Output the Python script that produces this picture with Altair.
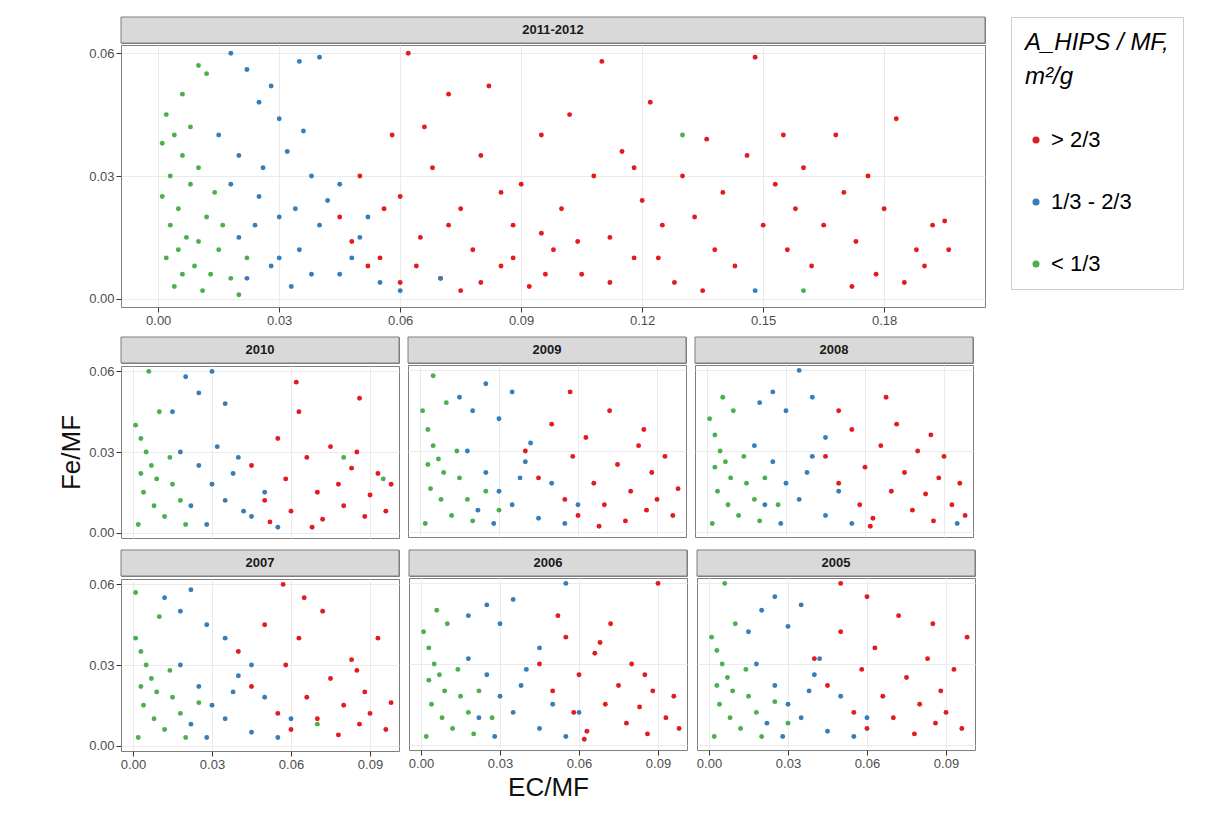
import altair as alt
import pandas as pd

# --- points read (approximately) from the picture, (EC/MF, Fe/MF) ---
r_2011 = [(0.045,0.020),(0.050,0.030),(0.055,0.010),(0.058,0.040),(0.060,0.025),(0.062,0.060),(0.065,0.015),(0.068,0.032),
          (0.070,0.005),(0.072,0.050),(0.075,0.022),(0.078,0.012),(0.080,0.035),(0.082,0.052),(0.085,0.008),(0.088,0.018),
          (0.090,0.028),(0.092,0.003),(0.095,0.040),(0.098,0.012),(0.100,0.022),(0.102,0.045),(0.105,0.006),(0.108,0.030),
          (0.110,0.058),(0.112,0.015),(0.115,0.036),(0.118,0.010),(0.120,0.024),(0.122,0.048),(0.125,0.018),(0.128,0.004),
          (0.130,0.030),(0.133,0.020),(0.136,0.039),(0.138,0.012),(0.140,0.026),(0.143,0.008),(0.146,0.035),(0.148,0.059),
          (0.150,0.018),(0.153,0.028),(0.156,0.012),(0.158,0.022),(0.160,0.032),(0.162,0.008),(0.165,0.018),(0.168,0.040),
          (0.170,0.026),(0.173,0.014),(0.176,0.030),(0.178,0.006),(0.180,0.022),(0.183,0.044),(0.185,0.004),(0.188,0.012),
          (0.190,0.008),(0.192,0.018),(0.195,0.019),(0.196,0.012),(0.060,0.004),(0.075,0.002),(0.052,0.008),(0.085,0.026),
          (0.095,0.016),(0.066,0.042),(0.118,0.032),(0.135,0.002),(0.155,0.040),(0.172,0.003),(0.048,0.014),(0.056,0.022),
          (0.064,0.008),(0.072,0.018),(0.080,0.004),(0.088,0.010),(0.096,0.006),(0.104,0.014),(0.112,0.004),(0.124,0.010)]
b_2011 = [(0.018,0.060),(0.022,0.056),(0.028,0.052),(0.035,0.058),(0.040,0.059),(0.025,0.048),(0.030,0.044),(0.015,0.040),
          (0.020,0.035),(0.032,0.036),(0.038,0.030),(0.045,0.028),(0.025,0.025),(0.030,0.020),(0.040,0.018),(0.050,0.015),
          (0.035,0.012),(0.028,0.008),(0.045,0.006),(0.055,0.004),(0.060,0.002),(0.020,0.015),(0.042,0.024),(0.033,0.003),
          (0.070,0.005),(0.148,0.002),(0.018,0.028),(0.048,0.010),(0.026,0.032),(0.036,0.041),(0.022,0.005),(0.052,0.020),
          (0.030,0.010),(0.038,0.006),(0.024,0.018),(0.034,0.022)]
g_2011 = [(0.002,0.045),(0.004,0.040),(0.006,0.035),(0.003,0.030),(0.008,0.028),(0.010,0.032),(0.001,0.025),(0.005,0.022),
          (0.012,0.020),(0.003,0.018),(0.007,0.015),(0.015,0.012),(0.002,0.010),(0.009,0.008),(0.018,0.005),(0.004,0.003),
          (0.011,0.002),(0.020,0.001),(0.006,0.050),(0.010,0.057),(0.012,0.055),(0.014,0.026),(0.016,0.018),(0.001,0.038),
          (0.008,0.042),(0.130,0.040),(0.160,0.002),(0.005,0.012),(0.013,0.006),(0.022,0.010),(0.006,0.006),(0.010,0.014)]

r_2010 = [(0.045,0.025),(0.050,0.012),(0.055,0.035),(0.058,0.020),(0.060,0.008),(0.063,0.045),(0.066,0.028),(0.070,0.015),
          (0.072,0.005),(0.075,0.032),(0.078,0.018),(0.080,0.010),(0.083,0.024),(0.086,0.050),(0.088,0.006),(0.090,0.014),
          (0.093,0.022),(0.096,0.008),(0.098,0.018),(0.062,0.056),(0.068,0.002),(0.085,0.030),(0.052,0.004)]
b_2010 = [(0.015,0.045),(0.020,0.058),(0.025,0.052),(0.030,0.060),(0.035,0.048),(0.018,0.030),(0.025,0.025),(0.030,0.018),
          (0.035,0.012),(0.040,0.028),(0.045,0.006),(0.050,0.015),(0.022,0.010),(0.028,0.003),(0.038,0.022),(0.055,0.002),
          (0.032,0.032),(0.042,0.008)]
g_2010 = [(0.001,0.040),(0.003,0.035),(0.005,0.030),(0.007,0.025),(0.009,0.020),(0.004,0.015),(0.008,0.010),(0.012,0.006),
          (0.002,0.003),(0.015,0.018),(0.006,0.060),(0.010,0.045),(0.018,0.012),(0.020,0.003),(0.003,0.022),(0.014,0.028),
          (0.095,0.020),(0.080,0.028)]

r_2009 = [(0.040,0.030),(0.045,0.020),(0.050,0.040),(0.055,0.012),(0.058,0.028),(0.060,0.006),(0.063,0.035),(0.066,0.018),
          (0.070,0.010),(0.072,0.045),(0.075,0.025),(0.078,0.004),(0.080,0.015),(0.083,0.032),(0.086,0.008),(0.088,0.022),
          (0.090,0.012),(0.093,0.028),(0.096,0.006),(0.098,0.016),(0.057,0.052),(0.068,0.002),(0.085,0.038)]
b_2009 = [(0.015,0.050),(0.020,0.045),(0.025,0.055),(0.030,0.042),(0.035,0.052),(0.018,0.030),(0.025,0.022),(0.030,0.015),
          (0.035,0.010),(0.040,0.026),(0.045,0.005),(0.050,0.018),(0.022,0.008),(0.028,0.003),(0.038,0.020),(0.055,0.003),
          (0.060,0.010),(0.042,0.033)]
g_2009 = [(0.001,0.045),(0.003,0.038),(0.005,0.032),(0.007,0.027),(0.009,0.022),(0.004,0.016),(0.008,0.012),(0.012,0.006),
          (0.002,0.003),(0.015,0.020),(0.005,0.058),(0.010,0.048),(0.018,0.012),(0.020,0.004),(0.003,0.025),(0.014,0.030),
          (0.025,0.015),(0.030,0.008)]

r_2008 = [(0.045,0.028),(0.050,0.018),(0.055,0.038),(0.058,0.010),(0.060,0.024),(0.063,0.005),(0.066,0.032),(0.070,0.015),
          (0.072,0.040),(0.075,0.022),(0.078,0.008),(0.080,0.030),(0.083,0.014),(0.086,0.004),(0.088,0.020),(0.090,0.028),
          (0.093,0.010),(0.096,0.018),(0.098,0.006),(0.050,0.045),(0.068,0.050),(0.085,0.036),(0.062,0.002)]
b_2008 = [(0.020,0.048),(0.025,0.052),(0.030,0.045),(0.035,0.060),(0.040,0.050),(0.018,0.032),(0.025,0.026),(0.030,0.018),
          (0.035,0.012),(0.040,0.028),(0.045,0.006),(0.050,0.015),(0.022,0.010),(0.028,0.003),(0.038,0.022),(0.055,0.003),
          (0.095,0.003),(0.045,0.035)]
g_2008 = [(0.001,0.042),(0.003,0.036),(0.005,0.030),(0.007,0.026),(0.009,0.020),(0.004,0.015),(0.008,0.010),(0.012,0.006),
          (0.002,0.003),(0.015,0.018),(0.006,0.050),(0.010,0.045),(0.018,0.012),(0.020,0.004),(0.003,0.024),(0.014,0.028),
          (0.022,0.020),(0.027,0.010)]

r_2007 = [(0.040,0.035),(0.045,0.022),(0.050,0.045),(0.055,0.012),(0.058,0.030),(0.060,0.006),(0.063,0.040),(0.066,0.018),
          (0.070,0.010),(0.072,0.050),(0.075,0.025),(0.078,0.004),(0.080,0.015),(0.083,0.032),(0.086,0.008),(0.088,0.020),
          (0.090,0.012),(0.093,0.040),(0.096,0.006),(0.098,0.016),(0.057,0.060),(0.065,0.055),(0.085,0.028)]
b_2007 = [(0.012,0.055),(0.018,0.050),(0.022,0.058),(0.028,0.045),(0.035,0.040),(0.018,0.030),(0.025,0.022),(0.030,0.015),
          (0.035,0.010),(0.040,0.026),(0.045,0.005),(0.050,0.018),(0.022,0.008),(0.028,0.003),(0.038,0.020),(0.055,0.003),
          (0.060,0.010),(0.045,0.030)]
g_2007 = [(0.001,0.040),(0.003,0.035),(0.005,0.030),(0.007,0.025),(0.009,0.020),(0.004,0.015),(0.008,0.010),(0.012,0.006),
          (0.002,0.003),(0.015,0.018),(0.001,0.057),(0.010,0.048),(0.018,0.012),(0.020,0.003),(0.003,0.022),(0.014,0.028),
          (0.025,0.016),(0.070,0.008)]

r_2006 = [(0.045,0.030),(0.050,0.020),(0.055,0.040),(0.058,0.012),(0.060,0.026),(0.063,0.005),(0.066,0.034),(0.070,0.015),
          (0.072,0.045),(0.075,0.022),(0.078,0.008),(0.080,0.030),(0.083,0.014),(0.086,0.004),(0.088,0.020),(0.090,0.060),
          (0.093,0.010),(0.096,0.018),(0.098,0.006),(0.052,0.048),(0.068,0.038),(0.085,0.026),(0.062,0.002)]
b_2006 = [(0.018,0.048),(0.025,0.052),(0.030,0.045),(0.035,0.054),(0.055,0.060),(0.018,0.032),(0.025,0.026),(0.030,0.018),
          (0.035,0.012),(0.040,0.028),(0.045,0.006),(0.050,0.015),(0.022,0.010),(0.028,0.003),(0.038,0.022),(0.055,0.003),
          (0.060,0.012),(0.045,0.036)]
g_2006 = [(0.001,0.042),(0.003,0.036),(0.005,0.030),(0.007,0.026),(0.009,0.020),(0.004,0.015),(0.008,0.010),(0.012,0.006),
          (0.002,0.003),(0.015,0.018),(0.006,0.050),(0.010,0.045),(0.018,0.012),(0.020,0.004),(0.003,0.024),(0.014,0.028),
          (0.022,0.020),(0.027,0.010)]

r_2005 = [(0.040,0.032),(0.045,0.022),(0.050,0.042),(0.055,0.012),(0.058,0.028),(0.060,0.006),(0.063,0.036),(0.066,0.018),
          (0.070,0.010),(0.072,0.048),(0.075,0.025),(0.078,0.004),(0.080,0.015),(0.083,0.032),(0.086,0.008),(0.088,0.020),
          (0.090,0.012),(0.093,0.028),(0.096,0.006),(0.098,0.040),(0.050,0.060),(0.060,0.055),(0.085,0.045)]
b_2005 = [(0.015,0.042),(0.020,0.050),(0.025,0.055),(0.030,0.044),(0.035,0.052),(0.018,0.030),(0.025,0.022),(0.030,0.015),
          (0.035,0.010),(0.040,0.026),(0.045,0.005),(0.050,0.018),(0.022,0.008),(0.028,0.003),(0.038,0.020),(0.055,0.003),
          (0.060,0.010),(0.042,0.032)]
g_2005 = [(0.001,0.040),(0.003,0.035),(0.005,0.030),(0.007,0.025),(0.009,0.020),(0.004,0.015),(0.008,0.010),(0.012,0.006),
          (0.002,0.003),(0.015,0.018),(0.006,0.060),(0.010,0.045),(0.018,0.012),(0.020,0.003),(0.003,0.022),(0.014,0.028),
          (0.025,0.016),(0.030,0.008)]

classes = ["> 2/3", "1/3 - 2/3", "< 1/3"]
colors = ["#e41a1c", "#377eb8", "#4daf4a"]
color_scale = alt.Scale(domain=classes, range=colors)


def make_df(red, blue, green):
    rows = []
    for cls, pts in zip(classes, [red, blue, green]):
        rows += [{"x": x, "y": y, "cls": cls} for x, y in pts]
    return pd.DataFrame(rows)


def panel(title, red, blue, green, w, h, xmax, xticks, show_x, show_y, xtitle=None, ytitle=None):
    strip_h = 26
    strip = alt.Chart(pd.DataFrame({"t": [title]})).mark_rect(
        fill="#d9d9d9", stroke="#7f7f7f"
    ).encode(x=alt.value(0), x2=alt.value(w), y=alt.value(0), y2=alt.value(strip_h))
    strip_text = alt.Chart(pd.DataFrame({"t": [title]})).mark_text(
        fontSize=13, font="Liberation Sans", fontWeight="bold", color="#1a1a1a"
    ).encode(x=alt.value(w / 2), y=alt.value(strip_h / 2), text="t:N")
    header = (strip + strip_text).properties(width=w, height=strip_h)

    x_axis = alt.Axis(values=xticks, format=".2f", grid=True, gridColor="#ebebeb",
                      labels=show_x, ticks=show_x, labelFontSize=13, tickColor="#333",
                      domain=False, title=xtitle, titleFontSize=26, titleFontWeight="normal")
    y_axis = alt.Axis(values=[0, 0.03, 0.06], format=".2f", grid=True, gridColor="#ebebeb",
                      labels=show_y, ticks=show_y, labelFontSize=13, tickColor="#333",
                      domain=False, title=ytitle, titleFontSize=26, titleFontWeight="normal")
    pts = alt.Chart(make_df(red, blue, green)).mark_circle(size=24, opacity=1).encode(
        x=alt.X("x:Q", scale=alt.Scale(domain=[-0.0045 * xmax / 0.1, xmax], nice=False), axis=x_axis),
        y=alt.Y("y:Q", scale=alt.Scale(domain=[-0.002, 0.062], nice=False), axis=y_axis),
        color=alt.Color("cls:N", scale=color_scale, sort=classes,
                        legend=alt.Legend(title=["A_HIPS / MF,", "m²/g"], symbolSize=50)),
    ).properties(width=w, height=h)
    return alt.vconcat(header, pts, spacing=0)


sw, sh = 278, 172
top = panel("2011-2012", r_2011, b_2011, g_2011, 864, 262, 0.205,
            [0, 0.03, 0.06, 0.09, 0.12, 0.15, 0.18], True, True)
row1 = alt.hconcat(
    panel("2010", r_2010, b_2010, g_2010, sw, sh, 0.101, [0, 0.03, 0.06, 0.09], False, True, ytitle="Fe/MF"),
    panel("2009", r_2009, b_2009, g_2009, sw, sh, 0.101, [0, 0.03, 0.06, 0.09], False, False),
    panel("2008", r_2008, b_2008, g_2008, sw, sh, 0.101, [0, 0.03, 0.06, 0.09], False, False),
    spacing=7)
row2 = alt.hconcat(
    panel("2007", r_2007, b_2007, g_2007, sw, sh, 0.101, [0, 0.03, 0.06, 0.09], True, True, ytitle=" "),
    panel("2006", r_2006, b_2006, g_2006, sw, sh, 0.101, [0, 0.03, 0.06, 0.09], True, False, xtitle="EC/MF"),
    panel("2005", r_2005, b_2005, g_2005, sw, sh, 0.101, [0, 0.03, 0.06, 0.09], True, False),
    spacing=7)

chart = alt.vconcat(top, row1, row2, spacing=8).properties(
    padding={"left": 50, "top": 8, "right": 5, "bottom": 5}
).configure_view(
    stroke="#7f7f7f"
).configure_axis(
    labelColor="#4d4d4d", labelFont="Liberation Sans", titleFont="Liberation Sans", titleColor="#111"
).configure_legend(
    labelFontSize=22, labelFont="Liberation Sans", titleFontSize=24, titleFont="Liberation Sans",
    titleFontWeight="normal", titleFontStyle="italic", padding=14, strokeColor="#ccc",
    orient="right", offset=25, rowPadding=40, titlePadding=40, titleLimit=200, titleLineHeight=34
)

chart.save("out.html", embed_options={"renderer": "svg", "actions": False})
